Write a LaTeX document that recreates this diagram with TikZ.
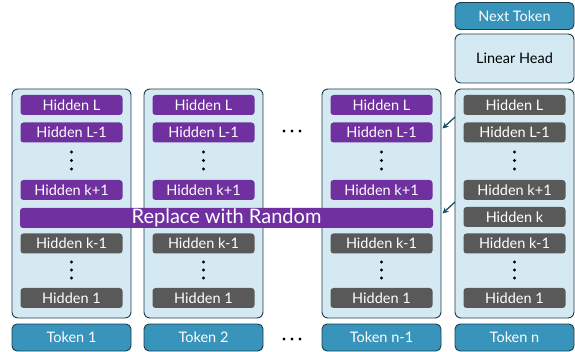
\documentclass[tikz,border=0pt]{standalone}
\usepackage{fontspec}
\setmainfont{Lato}
\usetikzlibrary{arrows.meta}
\definecolor{colfill}{HTML}{D4E9F2}
\definecolor{coledge}{HTML}{1E3D4B}
\definecolor{purp}{HTML}{7030A0}
\definecolor{grey}{HTML}{595959}
\definecolor{tok}{HTML}{3894BB}
\definecolor{arr}{HTML}{1B4F63}
\tikzset{
  col/.style={draw=coledge, line width=0.9pt, fill=colfill, rounded corners=6pt, minimum width=119pt, minimum height=229pt, inner sep=0pt},
  hid/.style={rounded corners=3pt, minimum width=102pt, minimum height=20pt, inner sep=0pt, text=white, font=\fontsize{14.5}{15}\selectfont},
  hp/.style={hid, fill=purp},
  hg/.style={hid, fill=grey},
  tokbox/.style={draw=coledge, line width=0.9pt, fill=tok, rounded corners=5pt, minimum width=119pt, minimum height=27pt, inner sep=0pt, text=white, font=\fontsize{14.5}{15}\selectfont},
  headbox/.style={draw=coledge, line width=0.9pt, fill=colfill, rounded corners=6pt, minimum width=119pt, minimum height=49pt, inner sep=0pt, font=\fontsize{14.5}{15}\selectfont},
  vdot/.style={circle, fill=black, inner sep=0pt, minimum size=3.2pt},
  hdot/.style={circle, fill=black, inner sep=0pt, minimum size=3.2pt},
  conn/.style={draw=arr, line width=1.3pt, -{Stealth[length=6pt,width=6pt]}}
}
\begin{document}
\begin{tikzpicture}[x=1pt,y=-1pt]
\useasboundingbox (0,0) rectangle (575,352);
% columns
\node[col] (c1) at (71.5,203.5) {};
\node[col] (c2) at (203.5,203.5) {};
\node[col] (c3) at (381.5,203.5) {};
\node[col] (c4) at (514.5,203.5) {};
% tokens
\node[tokbox] (t1) at (71.5,337.5) {Token 1};
\node[tokbox] (t2) at (203.5,337.5) {Token 2};
\node[tokbox] (t3) at (381.5,337.5) {Token n-1};
\node[tokbox] (t4) at (514.5,337.5) {Token n};
% head
\node[headbox] (lh) at (514.5,58.5) {Linear Head};
\node[tokbox] (nt) at (514.5,16) {Next Token};
% hidden states, columns 1-3
\foreach \c/\x in {1/71.5,2/203.5,3/381.5}{
  \node[hp] (hL\c) at (\x,105) {Hidden L};
  \node[hp] (hLm\c) at (\x,132.5) {Hidden L-1};
  \node[hp] (hkp\c) at (\x,190) {Hidden k+1};
  \node[hg] (hkm\c) at (\x,243.5) {Hidden k-1};
  \node[hg] (h1\c) at (\x,298) {Hidden 1};
  \node[vdot] (da\c) at (\x,152) {};
  \node[vdot] (db\c) at (\x,160.5) {};
  \node[vdot] (dc\c) at (\x,169) {};
  \node[vdot] (dd\c) at (\x,262) {};
  \node[vdot] (de\c) at (\x,270) {};
  \node[vdot] (df\c) at (\x,278) {};
}
% column n
\node[hg] (hL4) at (514.5,105) {Hidden L};
\node[hg] (hLm4) at (514.5,132.5) {Hidden L-1};
\node[hg] (hkp4) at (514.5,190) {Hidden k+1};
\node[hg] (hk4) at (514.5,217) {Hidden k};
\node[hg] (hkm4) at (514.5,243.5) {Hidden k-1};
\node[hg] (h14) at (514.5,298) {Hidden 1};
\node[vdot] (da4) at (514.5,152) {};
\node[vdot] (db4) at (514.5,160.5) {};
\node[vdot] (dc4) at (514.5,169) {};
\node[vdot] (dd4) at (514.5,262) {};
\node[vdot] (de4) at (514.5,270) {};
\node[vdot] (df4) at (514.5,278) {};
% replace bar
\node[fill=purp, rounded corners=3pt, minimum width=413pt, minimum height=20pt, inner sep=0pt, text=white, font=\fontsize{20}{21}\selectfont] (rep) at (226.5,218) {Replace with Random};
% horizontal dots
\node[hdot] (ha1) at (284,131) {};
\node[hdot] (ha2) at (292,131) {};
\node[hdot] (ha3) at (300,131) {};
\node[hdot] (hb1) at (284,339) {};
\node[hdot] (hb2) at (292,339) {};
\node[hdot] (hb3) at (300,339) {};
% connectors
\coordinate (s1) at (455,117);
\coordinate (e1) at (442.5,128.5);
\coordinate (s2) at (455,202);
\coordinate (e2) at (442.5,213.5);
\draw[conn] (s1) -- (e1);
\draw[conn] (s2) -- (e2);
\end{tikzpicture}
\end{document}
